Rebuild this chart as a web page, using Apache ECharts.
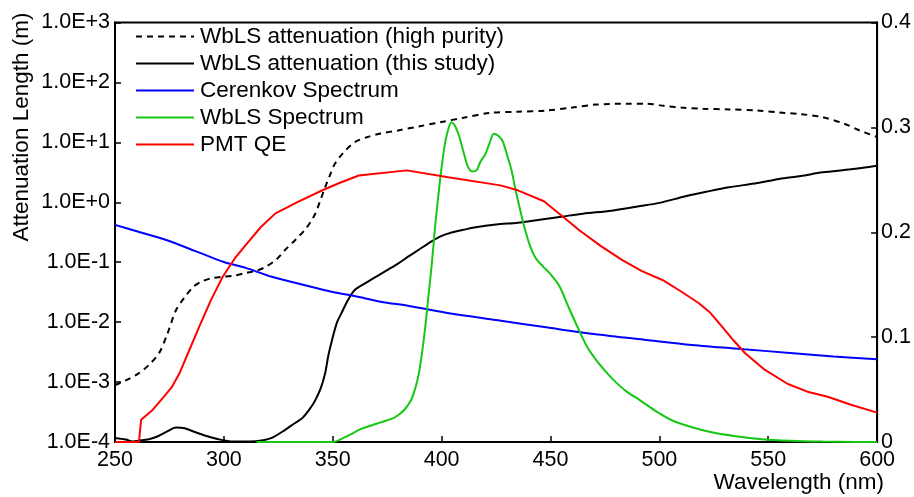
<!DOCTYPE html>
<html>
<head>
<meta charset="utf-8">
<script src="https://cdn.jsdelivr.net/npm/echarts@6/dist/echarts.min.js"></script>
<style>
html,body{margin:0;padding:0;background:#fff;}
#chart{width:914px;height:497px;}
</style>
</head>
<body>
<div id="chart"></div>
<script>
// ---- Data ----
const xTicks = [250, 300, 350, 400, 450, 500, 550, 600];
const leftTickLabels = ['1.0E-4','1.0E-3','1.0E-2','1.0E-1','1.0E+0','1.0E+1','1.0E+2','1.0E+3'];
const rightTickLabels = ['0','0.1','0.2','0.3','0.4'];
const seriesNames = ['WbLS attenuation (high purity)','WbLS attenuation (this study)','Cerenkov Spectrum','WbLS Spectrum','PMT QE'];

// WbLS attenuation (high purity), metres
const hpWl  = [250,255,261,266,270.5,274,278,282,286,290,294,300,305,310,315,319,324,328,333,337,340,342,344,346.5,349,351,355,360,366,372,380,390,400,410,422,435,448,460,471,485,494,502,510,520,532,545,555,565,575,585,592,600];
const hpVal = [8.9e-4,1.07e-3,1.41e-3,2.0e-3,3.16e-3,6.3e-3,0.0158,0.026,0.039,0.048,0.0537,0.0575,0.06,0.066,0.072,0.083,0.11,0.158,0.24,0.34,0.48,0.65,1.0,1.78,3.0,4.4,6.8,10,12.3,14.1,15.8,18.6,21.9,25.7,30.9,32.4,33.9,38,42.7,44.2,44.2,40.7,38,36.3,35.5,33.9,31.6,29.5,26.3,20.4,15.8,12.3];

// WbLS attenuation (this study), metres
const tsWl  = [250,255,258,262,266,270,274,278,282,286,292,298,304,312,318,322,328,332,336,340,342,344.5,346.5,348,350,352,354,357,360,365,370,375,380,385,390,396,400,405,410,415,425,435,445,455,465,478,490,500,512,522,532,545,555,565,575,588,600];
const tsVal = [1.17e-4,1.1e-4,1.02e-4,1.07e-4,1.12e-4,1.26e-4,1.5e-4,1.74e-4,1.7e-4,1.5e-4,1.26e-4,1.1e-4,1.02e-4,1.02e-4,1.07e-4,1.17e-4,1.58e-4,2.0e-4,2.5e-4,3.8e-4,5e-4,7.9e-4,1.4e-3,2.8e-3,5.6e-3,0.01,0.0141,0.0234,0.034,0.0447,0.0575,0.074,0.095,0.126,0.166,0.229,0.275,0.316,0.347,0.38,0.427,0.457,0.513,0.575,0.646,0.724,0.851,0.977,1.26,1.51,1.78,2.09,2.45,2.75,3.16,3.55,4.07];

// Cerenkov spectrum (right axis)
const ckWl  = [250,260,273.5,287,300,310,322,335,349.5,360,372,385,402,425,448,470,494,515,539,560,580,600];
const ckVal = [0.207,0.201,0.1926,0.182,0.1716,0.166,0.1576,0.1507,0.1433,0.1392,0.1338,0.1297,0.1233,0.1163,0.1094,0.103,0.0973,0.0925,0.0884,0.0849,0.0815,0.0789];

// WbLS emission spectrum (right axis)
const wsWl  = [315,330,350,353,358,363,368,372,377,380,383,386,388,389.5,391,392.5,394,395.5,397,398.5,400,401.5,403,404.5,406,408,410,412,414,416,418,420,422,424,426,428,430,432,434,436,438,440.6,443,446.7,450,454,458,463,467,471,475,479,485,491,498,506,515,524,535,547,560,575,590,600];
const wsVal = [0,0,0,0.002,0.007,0.0125,0.016,0.0187,0.022,0.0255,0.031,0.04,0.052,0.065,0.085,0.11,0.14,0.17,0.205,0.235,0.262,0.284,0.298,0.305,0.302,0.292,0.277,0.263,0.258,0.259,0.268,0.274,0.285,0.294,0.292,0.287,0.274,0.26,0.24,0.222,0.205,0.187,0.176,0.167,0.16,0.149,0.13,0.107,0.09,0.078,0.068,0.059,0.048,0.04,0.03,0.0205,0.014,0.0092,0.0055,0.0027,0.0012,0.0004,0.0001,0];

// PMT quantum efficiency (right axis)
const qeWl  = [250,261,262,267,272,276,279.6,284,288.7,294,299.4,305,310,317,323.7,334,345,353,362,384,403,427,435,447,455,463.4,473,483,492,501.4,510,518,523,528.8,534,539.4,548.5,559,568,577.3,588,600];
const qeVal = [0,0,0.0213,0.03,0.042,0.052,0.0655,0.087,0.11,0.135,0.1573,0.175,0.1878,0.205,0.218,0.229,0.2398,0.247,0.2541,0.259,0.2525,0.2447,0.24,0.2296,0.216,0.2017,0.187,0.1735,0.163,0.1545,0.1435,0.1325,0.124,0.11,0.097,0.0846,0.0687,0.0553,0.048,0.0432,0.0355,0.028];

const pairs = (xs, ys) => xs.map((x, i) => [x, ys[i]]);

const FONT = 'Liberation Sans, Arial, sans-serif';
const chart = echarts.init(document.getElementById('chart'), null, {renderer: 'canvas'});

function leftFmt(v) {
  const e = Math.round(Math.log10(v));
  const idx = e + 4;
  return leftTickLabels[idx] !== undefined ? leftTickLabels[idx] : '';
}
function rightFmt(v) {
  const idx = Math.round(v * 10);
  return rightTickLabels[idx] !== undefined ? rightTickLabels[idx] : '';
}

const option = {
  animation: false,
  backgroundColor: '#ffffff',
  grid: {left: 115, right: 31, top: 22.5, bottom: 55, show: true, borderColor: '#000', borderWidth: 2, backgroundColor: 'transparent', containLabel: false},
  legend: {
    data: seriesNames,
    orient: 'vertical',
    left: 135,
    top: 25,
    itemWidth: 58,
    itemHeight: 12,
    itemGap: 4,
    padding: 0,
    itemStyle: {opacity: 0},
    textStyle: {fontSize: 22.5, fontFamily: FONT, color: '#000', lineHeight: 22, padding: [0, 0, 0, 1]},
    selectedMode: false
  },
  xAxis: {
    type: 'value',
    min: xTicks[0],
    max: xTicks[xTicks.length - 1],
    interval: 50,
    axisLine: {show: true, lineStyle: {color: '#000', width: 2}},
    axisTick: {show: true, inside: true, length: 6, lineStyle: {color: '#000', width: 1.5}},
    axisLabel: {fontSize: 21.5, fontFamily: FONT, color: '#000', margin: 7},
    splitLine: {show: false}
  },
  yAxis: [
    {
      type: 'log',
      logBase: 10,
      min: 1e-4,
      max: 1e3,
      splitNumber: 7,
      axisLine: {show: true, lineStyle: {color: '#000', width: 2}},
      axisTick: {show: true, inside: true, length: 6, lineStyle: {color: '#000', width: 1.5}},
      minorTick: {show: false},
      axisLabel: {fontSize: 21.5, fontFamily: FONT, color: '#000', margin: 5, formatter: leftFmt},
      splitLine: {show: false}
    },
    {
      type: 'value',
      min: 0,
      max: 0.4,
      interval: 0.1,
      position: 'right',
      axisLine: {show: true, lineStyle: {color: '#000', width: 2}},
      axisTick: {show: true, inside: true, length: 6, lineStyle: {color: '#000', width: 1.5}},
      axisLabel: {fontSize: 21.5, fontFamily: FONT, color: '#000', margin: 4, formatter: rightFmt},
      splitLine: {show: false}
    }
  ],
  graphic: [
    {type: 'text', x: 22, y: 127, rotation: Math.PI / 2,
     style: {text: 'Attenuation Length (m)', fontSize: 22.5, fontFamily: FONT, fill: '#000', align: 'center', verticalAlign: 'middle'}},
    {type: 'text', x: 884, y: 483,
     style: {text: 'Wavelength (nm)', fontSize: 22.5, fontFamily: FONT, fill: '#000', align: 'right', verticalAlign: 'middle'}}
  ],
  series: [
    {name: seriesNames[0], type: 'line', yAxisIndex: 0, symbol: 'none', data: pairs(hpWl, hpVal), smooth: 0.3,
     lineStyle: {color: '#000', width: 2, type: [6, 5]}, itemStyle: {color: '#000'}, z: 3},
    {name: seriesNames[1], type: 'line', yAxisIndex: 0, symbol: 'none', data: pairs(tsWl, tsVal), smooth: 0.3,
     lineStyle: {color: '#000', width: 2}, itemStyle: {color: '#000'}, z: 3},
    {name: seriesNames[2], type: 'line', yAxisIndex: 1, symbol: 'none', data: pairs(ckWl, ckVal), smooth: 0.3,
     lineStyle: {color: '#0000ff', width: 2}, itemStyle: {color: '#0000ff'}, z: 3},
    {name: seriesNames[3], type: 'line', yAxisIndex: 1, symbol: 'none', data: pairs(wsWl, wsVal), smooth: 0.3,
     lineStyle: {color: '#14c814', width: 2}, itemStyle: {color: '#14c814'}, z: 3},
    {name: seriesNames[4], type: 'line', yAxisIndex: 1, symbol: 'none', data: pairs(qeWl, qeVal), smooth: false,
     lineStyle: {color: '#ff0000', width: 2}, itemStyle: {color: '#ff0000'}, z: 3}
  ]
};
chart.setOption(option);
</script>
</body>
</html>
